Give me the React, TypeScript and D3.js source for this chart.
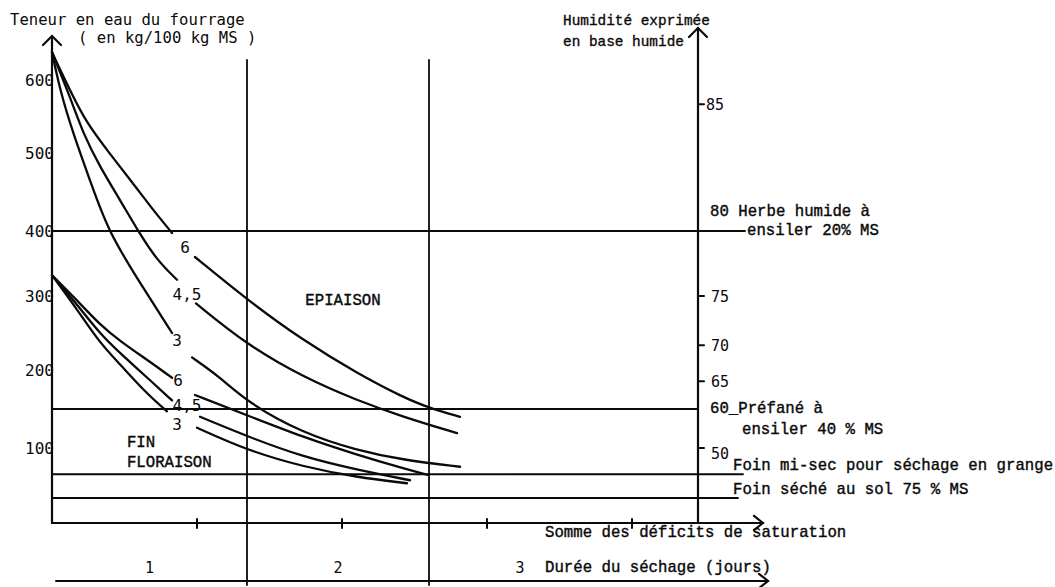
import React, { useEffect, useRef } from 'react';
import * as d3 from 'd3';

// left axis : teneur en eau (kg / 100 kg MS), hand drawn so positions are not quite even
const waterTicks = [100, 200, 300, 400, 500, 600];
// right axis : humidité en base humide (%)
const humidityTicks = [85, 75, 70, 65, 50];
// somme des déficits de saturation (unlabelled ticks)
const deficitTicks = [1, 2, 3, 4];
// durée du séchage
const dayLabels = ['1', '2', '3'];
const dayBounds = [1, 2];

// reference levels, as % of dry matter
const levelMS = [20, 40, 60.6, 75];

// EPIAISON curves [deficit sum, water content], each split around its label
const epi6a = [[0, 638], [0.145, 577], [0.241, 541], [0.379, 504], [0.559, 461], [0.697, 427], [0.828, 397]];
const epi6b = [[0.986, 360], [1.345, 295], [1.731, 240], [2.103, 196], [2.421, 165], [2.607, 151], [2.814, 140]];
const epi45a = [[0, 638], [0.124, 577], [0.214, 527], [0.331, 482], [0.469, 440], [0.593, 400], [0.724, 355], [0.862, 325]];
const epi45b = [[0.993, 290], [1.345, 234], [1.731, 191], [2.103, 161], [2.421, 140], [2.793, 119]];
const epi3a = [[0, 638], [0.055, 586], [0.145, 527], [0.262, 465], [0.386, 400], [0.607, 320], [0.828, 250]];
const epi3b = [[0.966, 217], [1.159, 191], [1.352, 158], [1.731, 119], [2.103, 97], [2.421, 84], [2.814, 75]];

// FIN FLORAISON curves
const fin6a = [[0, 332], [0.159, 297], [0.331, 261], [0.469, 239], [0.676, 211], [0.828, 190]];
const fin6b = [[0.986, 168], [1.345, 142], [1.731, 114], [2.103, 91], [2.421, 73], [2.593, 64]];
const fin45a = [[0, 332], [0.159, 292], [0.331, 249], [0.469, 223], [0.676, 187], [0.828, 161]];
const fin45b = [[1.021, 140], [1.345, 115], [1.731, 88], [2.103, 71], [2.469, 57]];
const fin3a = [[0, 332], [0.159, 286], [0.331, 236], [0.469, 208], [0.641, 172], [0.793, 147]];
const fin3b = [[1.0, 126], [1.345, 97], [1.731, 75], [2.103, 61], [2.448, 53]];

const curves = [epi6a, epi6b, epi45a, epi45b, epi3a, epi3b, fin6a, fin6b, fin45a, fin45b, fin3a, fin3b];

const curveLabels = ['6', '4,5', '3', '6', '4,5', '3'];
const curveLabelAt = [[0.917, 375], [0.931, 303], [0.862, 240], [0.869, 187], [0.931, 155], [0.862, 130]];

const stageLabels = ['EPIAISON', 'FIN', 'FLORAISON'];
const stageLabelAt = [[2.007, 293], [0.517, 106], [0.517, 80]];

const leftTitle = ['Teneur en eau du fourrage', '( en kg/100 kg MS )'];
const rightTitle = ['Humidité exprimée', 'en base humide'];

const mono = '"DejaVu Sans Mono", monospace';
const courier = '"Liberation Mono", "Courier New", monospace';
const ink = '#0a0a0a';

const App = () => {
    const ref = useRef<SVGSVGElement>(null);

    const graph = () => {
        const svg = d3.select(ref.current);
        svg.selectAll('*').remove();

        const x = d3.scaleLinear().domain([0, 4]).range([52, 632]);
        const y = d3.scaleLinear()
            .domain([0, 100, 200, 300, 400, 500, 600])
            .range([523, 448, 370, 296, 231, 153, 80]);
        const day = d3.scaleLinear().domain([0, 1, 2, 3]).range([52, 247, 429, 611]);
        // humidity on wet basis -> water content per 100 kg DM
        const hum = (h: number) => y((100 * h) / (100 - h));
        const ms = (m: number) => y(((100 - m) / m) * 100);

        const x0 = x(0);
        const y0 = y(0);
        const rightX = 698;
        const dureeY = 581;

        const g = svg.append('g').attr('stroke', ink).attr('fill', 'none').attr('stroke-linecap', 'round');

        const arrow = (tx: number, ty: number, dir: string) => {
            const s = 9;
            const d = dir === 'up'
                ? `M${tx - s},${ty + s}L${tx},${ty}L${tx + s},${ty + s}`
                : `M${tx - s},${ty - s * 0.8}L${tx},${ty}L${tx - s},${ty + s * 0.8}`;
            g.append('path').attr('d', d).attr('stroke-width', 2.2);
        };

        // axes
        g.append('line').attr('x1', x0).attr('x2', x0).attr('y1', y0).attr('y2', 36).attr('stroke-width', 2.2);
        arrow(x0, 36, 'up');
        g.append('line').attr('x1', rightX).attr('x2', rightX).attr('y1', y0).attr('y2', 28).attr('stroke-width', 2.2);
        arrow(rightX, 28, 'up');
        g.append('line').attr('x1', x0).attr('x2', 763).attr('y1', y0).attr('y2', y0).attr('stroke-width', 2.2);
        arrow(763, y0, 'right');
        g.append('line').attr('x1', 56).attr('x2', 768).attr('y1', dureeY).attr('y2', dureeY).attr('stroke-width', 2);
        arrow(768, dureeY, 'right');

        g.selectAll('.dtick').data(deficitTicks).enter().append('line')
            .attr('x1', d => x(d)).attr('x2', d => x(d))
            .attr('y1', y0 - 4).attr('y2', y0 + 5).attr('stroke-width', 2);

        // day boundaries
        g.selectAll('.day').data(dayBounds).enter().append('line')
            .attr('x1', d => day(d)).attr('x2', d => day(d))
            .attr('y1', 60).attr('y2', 585).attr('stroke-width', 1.8);

        // reference levels
        const levelEnd = [745, rightX, 743, 738];
        g.selectAll('.level').data(levelMS).enter().append('line')
            .attr('x1', x0).attr('x2', (d, i) => levelEnd[i])
            .attr('y1', d => ms(d)).attr('y2', d => ms(d)).attr('stroke-width', 1.8);

        // right ticks
        g.selectAll('.htick').data(humidityTicks).enter().append('line')
            .attr('x1', rightX).attr('x2', rightX + 6)
            .attr('y1', d => hum(d)).attr('y2', d => hum(d)).attr('stroke-width', 2);

        // curves
        const line = d3.line<number[]>()
            .x(d => x(d[0]))
            .y(d => y(d[1]))
            .curve(d3.curveBasis);
        g.selectAll('.curve').data(curves).enter().append('path')
            .attr('d', d => line(d))
            .attr('stroke-width', 2.3);

        const t = svg.append('g').attr('fill', ink);

        // left axis labels
        t.selectAll('.wl').data(waterTicks).enter().append('text')
            .attr('x', x0 + 2).attr('y', d => y(d) + 6)
            .attr('text-anchor', 'end')
            .style('font-family', mono).style('font-size', '16px')
            .text(d => d);

        t.selectAll('.lt').data(leftTitle).enter().append('text')
            .attr('x', (d, i) => (i === 0 ? 10 : 78)).attr('y', (d, i) => (i === 0 ? 25 : 43))
            .style('font-family', mono).style('font-size', '15.6px')
            .attr('xml:space', 'preserve')
            .text(d => d);

        t.selectAll('.rt').data(rightTitle).enter().append('text')
            .attr('x', 563).attr('y', (d, i) => (i === 0 ? 25 : 46))
            .attr('stroke', ink).attr('stroke-width', 0.35)
            .style('font-family', courier).style('font-size', '14.4px')
            .text(d => d);

        t.selectAll('.hl').data(humidityTicks).enter().append('text')
            .attr('x', d => (d === 85 ? rightX + 8 : rightX + 13))
            .attr('y', d => (d === 50 ? hum(d) + 11 : hum(d) + 6))
            .style('font-family', mono).style('font-size', '15px')
            .text(d => d);

        // notes next to the levels
        const note = (tx: number, ty: number, s: string) =>
            t.append('text').attr('x', tx).attr('y', ty)
                .attr('stroke', ink).attr('stroke-width', 0.4)
                .style('font-family', courier).style('font-size', '15.7px')
                .text(s);
        note(rightX + 12, ms(levelMS[0]) - 15, '80 Herbe humide à');
        note(747, ms(levelMS[0]) + 4, 'ensiler 20% MS');
        note(rightX + 12, ms(levelMS[1]) + 4, '60_Préfané à');
        note(742, ms(levelMS[1]) + 25, 'ensiler 40 % MS');
        note(733, ms(levelMS[2]) - 4, 'Foin mi-sec pour séchage en grange');
        note(733, ms(levelMS[3]) - 4, 'Foin séché au sol 75 % MS');
        note(545, y0 + 14, 'Somme des déficits de saturation');
        note(545, dureeY - 9, 'Durée du séchage (jours)');

        // day numbers
        t.selectAll('.dl').data(dayLabels).enter().append('text')
            .attr('x', (d, i) => day(i + 0.5)).attr('y', dureeY - 8)
            .attr('text-anchor', 'middle')
            .style('font-family', mono).style('font-size', '15px')
            .text(d => d);

        // curve labels
        t.selectAll('.cl').data(curveLabels).enter().append('text')
            .attr('x', (d, i) => x(curveLabelAt[i][0]))
            .attr('y', (d, i) => y(curveLabelAt[i][1]))
            .attr('text-anchor', 'middle').attr('dominant-baseline', 'central')
            .style('font-family', mono).style('font-size', '16px')
            .text(d => d);

        // stage names
        t.selectAll('.sl').data(stageLabels).enter().append('text')
            .attr('x', (d, i) => x(stageLabelAt[i][0]))
            .attr('y', (d, i) => y(stageLabelAt[i][1]))
            .attr('text-anchor', (d, i) => (i === 0 ? 'middle' : 'start'))
            .attr('dominant-baseline', 'central')
            .attr('stroke', ink).attr('stroke-width', 0.4)
            .style('font-family', courier).style('font-size', '15.7px')
            .text(d => d);
    };

    useEffect(() => graph(), []);

    return (
        <svg ref={ref} width="1055" height="587"
            style={{ position: 'absolute', left: 0, top: 0, background: '#fff' }} />
    );
};

export default App;
